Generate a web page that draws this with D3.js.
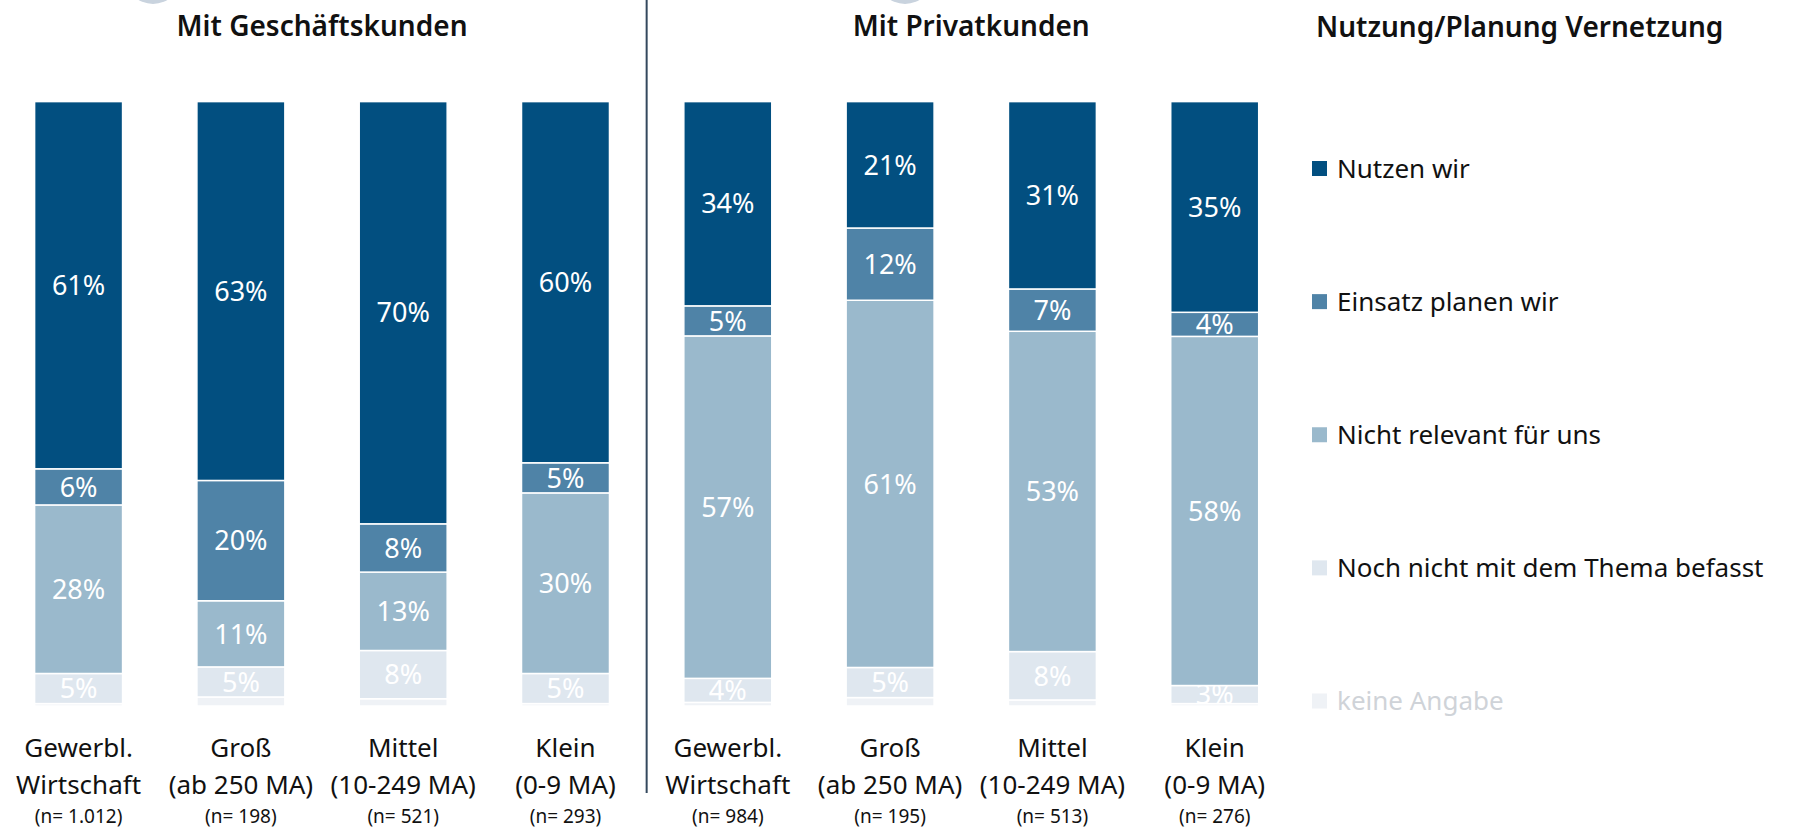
<!DOCTYPE html>
<html>
<head>
<meta charset="utf-8">
<script src="https://cdn.jsdelivr.net/npm/d3@7"></script>
<style>
  body { margin: 0; background: #fff; }
  svg { display: block; font-family: "Noto Sans", "Open Sans", sans-serif; }
</style>
</head>
<body>
<svg id="chart" width="1810" height="831"></svg>
<script>
// groups and categories
const groupTitles = ['Mit Geschäftskunden', 'Mit Privatkunden']
const catIds = ['g1', 'g2', 'g3', 'g4', 'p1', 'p2', 'p3', 'p4']
const catGroup = [0, 0, 0, 0, 1, 1, 1, 1]
const catLine1 = ['Gewerbl.', 'Groß', 'Mittel', 'Klein', 'Gewerbl.', 'Groß', 'Mittel', 'Klein']
const catLine2 = ['Wirtschaft', '(ab 250 MA)', '(10-249 MA)', '(0-9 MA)', 'Wirtschaft', '(ab 250 MA)', '(10-249 MA)', '(0-9 MA)']
const catN = ['(n= 1.012)', '(n= 198)', '(n= 521)', '(n= 293)', '(n= 984)', '(n= 195)', '(n= 513)', '(n= 276)']

// series (percent)
const seriesNames = ['Nutzen wir', 'Einsatz planen wir', 'Nicht relevant für uns', 'Noch nicht mit dem Thema befasst', 'keine Angabe']
const nutzen        = [61, 63, 70, 60, 34, 21, 31, 35]
const einsatz       = [6, 20, 8, 5, 5, 12, 7, 4]
const nichtRelevant = [28, 11, 13, 30, 57, 61, 53, 58]
const nochNicht     = [5, 5, 8, 5, 4, 5, 8, 3]
const keineAngabe   = [0.4, 1.5, 1.2, 0.4, 0.6, 1.4, 1.0, 0.4]

const legendTitle = 'Nutzung/Planung Vernetzung'
const colors = ['#024f80', '#4f83a7', '#9ab9cc', '#dfe7ef', '#eff2f6']

const svg = d3.select('#chart')

const table = catIds.map((id, i) => ({
	id: id,
	s0: nutzen[i], s1: einsatz[i], s2: nichtRelevant[i], s3: nochNicht[i], s4: keineAngabe[i]
}))
const keys = ['s0', 's1', 's2', 's3', 's4']

const stacked = d3.stack().keys(keys.slice().reverse()).offset(d3.stackOffsetExpand)(table)

const x = d3.scaleBand()
	.domain(catIds)
	.range([34.6, 1258.7])
	.paddingInner(0.458)
	.paddingOuter(0)

const y = d3.scaleLinear().domain([0, 1]).range([706, 101.6])

const color = d3.scaleOrdinal().domain(keys).range(colors)

// faint icon remnants at top
svg.selectAll('circle.icon')
	.data([0, 1])
	.enter().append('circle')
	.attr('class', 'icon')
	.attr('cx', d => d == 0 ? 153 : 905)
	.attr('cy', -24)
	.attr('r', 28)
	.attr('fill', '#c9d3de')

// divider between groups
const divX = (x('g4') + x.bandwidth() + x('p1')) / 2
svg.append('line')
	.attr('x1', divX).attr('x2', divX)
	.attr('y1', 0).attr('y2', 793)
	.attr('stroke', '#34495e')
	.attr('stroke-width', 2)

// group titles
groupTitles.forEach((t, gi) => {
	const ids = catIds.filter((d, i) => catGroup[i] == gi)
	const cx = (x(ids[0]) + x(ids[ids.length - 1]) + x.bandwidth()) / 2
	svg.append('text')
		.attr('x', cx).attr('y', 36)
		.attr('text-anchor', 'middle')
		.attr('font-size', 28)
		.attr('font-weight', 600)
		.attr('fill', '#111')
		.text(t)
})

// bars
const layers = svg.append('g').attr('class', 'bars')
	.selectAll('g')
	.data(stacked)
	.enter().append('g')
	.attr('fill', d => color(d.key))

layers.selectAll('rect')
	.data(d => d)
	.enter().append('rect')
	.attr('x', d => x(d.data.id))
	.attr('width', x.bandwidth())
	.attr('y', d => y(d[1]))
	.attr('height', d => y(d[0]) - y(d[1]))
	.attr('stroke', '#fff')
	.attr('stroke-width', 1.5)

// value labels (not for keine Angabe)
layers.filter(d => d.key != 's4')
	.selectAll('text')
	.data(d => d.map(v => ({ v: v, key: d.key })))
	.enter().append('text')
	.attr('x', d => x(d.v.data.id) + x.bandwidth() / 2)
	.attr('y', d => (y(d.v[0]) + y(d.v[1])) / 2)
	.attr('dy', '0.36em')
	.attr('text-anchor', 'middle')
	.attr('font-size', 27)
	.attr('fill', '#fff')
	.text(d => d.v.data[d.key] + '%')

// category labels
const labels = svg.append('g').attr('class', 'cat-labels')
	.selectAll('g')
	.data(catIds)
	.enter().append('g')
	.attr('transform', d => `translate(${x(d) + x.bandwidth() / 2}, 0)`)
	.attr('text-anchor', 'middle')
	.attr('fill', '#111')

labels.append('text').attr('y', 757).attr('font-size', 26).text((d, i) => catLine1[i])
labels.append('text').attr('y', 794).attr('font-size', 26).text((d, i) => catLine2[i])
labels.append('text').attr('y', 823).attr('font-size', 19).text((d, i) => catN[i])

// legend
svg.append('text')
	.attr('x', 1316).attr('y', 37)
	.attr('font-size', 28)
	.attr('font-weight', 600)
	.attr('fill', '#111')
	.text(legendTitle)

const legendY = d3.scalePoint().domain(keys).range([168.5, 701])

const legend = svg.append('g').attr('class', 'legend')
	.selectAll('g')
	.data(keys)
	.enter().append('g')
	.attr('transform', d => `translate(1312, ${legendY(d)})`)

legend.append('rect')
	.attr('x', 0).attr('y', -7.5)
	.attr('width', 15).attr('height', 15)
	.attr('fill', d => color(d))

legend.append('text')
	.attr('x', 25).attr('dy', '0.36em')
	.attr('font-size', 26)
	.attr('fill', d => d == 's4' ? '#cfd3d8' : '#111')
	.text((d, i) => seriesNames[i])
</script>
</body>
</html>
